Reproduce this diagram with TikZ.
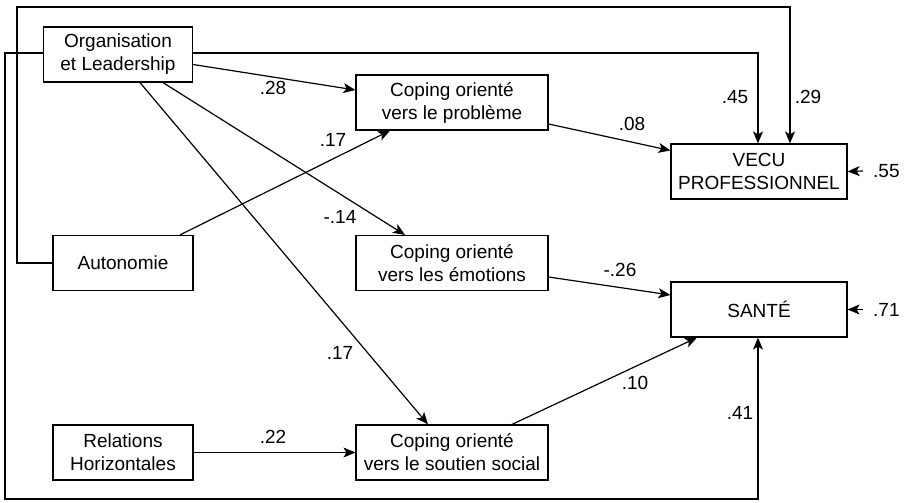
\documentclass[tikz,border=0pt]{standalone}
\usepackage{fontspec}
\setmainfont{Liberation Sans}
\usetikzlibrary{arrows.meta}
\begin{document}
\begin{tikzpicture}[x=1pt,y=-1pt,
  every node/.style={font=\fontsize{19}{23}\selectfont},
  box/.style={draw,line width=1.2pt,align=center,inner sep=0pt,minimum height=55pt},
  wide/.style={box,minimum width=192pt},
  narrow/.style={box,minimum width=140pt},
  lab/.style={inner sep=0pt},
  arr/.style={line width=1.2pt,-{Stealth[length=12pt,width=10pt,inset=3pt]}},
  ln/.style={line width=1.2pt}]
\fill[white] (0,0) rectangle (906,503);
\useasboundingbox (0,0) rectangle (906,503);
% nodes
\node[box,minimum width=149pt] (org) at (118,54.5) {Organisation\\et Leadership};
\node[narrow] (auto) at (123,263) {Autonomie};
\node[narrow] (rel) at (123,452.5) {Relations\\Horizontales};
\node[wide] (cpb) at (452,102.5) {Coping orienté\\vers le problème};
\node[wide] (cem) at (452,263) {Coping orienté\\vers les émotions};
\node[wide] (css) at (452,452.5) {Coping orienté\\vers le soutien social};
\node[box,minimum width=176pt] (vecu) at (759,171.5) {VECU\\PROFESSIONNEL};
\node[box,minimum width=176pt] (sante) at (759,309.5) {SANTÉ};
% corner coordinates
\coordinate (a1) at (17,263);
\coordinate (a2) at (17,7);
\coordinate (o1) at (5,53);
\coordinate (o2) at (5,499);
% residual labels
\node[lab,anchor=west] (e1) at (873,171) {.55};
\node[lab,anchor=west] (e2) at (873,309.5) {.71};
% diagonal paths
\draw[arr] ([yshift=-10pt]org.east) -- ([yshift=12.5pt]cpb.west);
\draw[arr] ([xshift=45pt]org.south) -- ([xshift=-47pt]cem.north);
\draw[arr] ([xshift=22pt]org.south) -- ([xshift=-24pt]css.north);
\draw[arr] ([xshift=57pt]auto.north) -- ([xshift=-62pt]cpb.south);
\draw[arr] ([yshift=-21.5pt]cpb.east) -- ([yshift=21pt]vecu.west);
\draw[arr] ([yshift=-14pt]cem.east) -- ([yshift=14.5pt]sante.west);
\draw[arr] ([xshift=60pt]css.north) -- ([xshift=-62pt]sante.south);
\draw[arr] (rel.east) -- (css.west);
% routed paths
\draw[arr] ([yshift=1.5pt]org.east) -| ([xshift=-1pt]vecu.north);
\draw[arr] (auto.west) -- (a1) -- (a2) -| ([xshift=31pt]vecu.north);
\draw[arr] ([yshift=1.5pt]org.west) -- (o1) -- (o2) -| ([xshift=-1pt]sante.south);
% residuals
\draw[arr] ([xshift=-10pt]e1.west) -- (vecu.east);
\draw[arr] ([xshift=-10pt]e2.west) -- (sante.east);
% labels
\node[lab] (l1) at (273,88) {.28};
\node[lab] (l2) at (333,140) {.17};
\node[lab] (l3) at (340,217) {-.14};
\node[lab] (l4) at (340,353) {.17};
\node[lab] (l5) at (273,437) {.22};
\node[lab] (l6) at (632,124) {.08};
\node[lab] (l7) at (620,270) {-.26};
\node[lab] (l8) at (635,383) {.10};
\node[lab] (l9) at (735,97) {.45};
\node[lab] (l10) at (808,97) {.29};
\node[lab] (l11) at (740,413) {.41};
\end{tikzpicture}
\end{document}
